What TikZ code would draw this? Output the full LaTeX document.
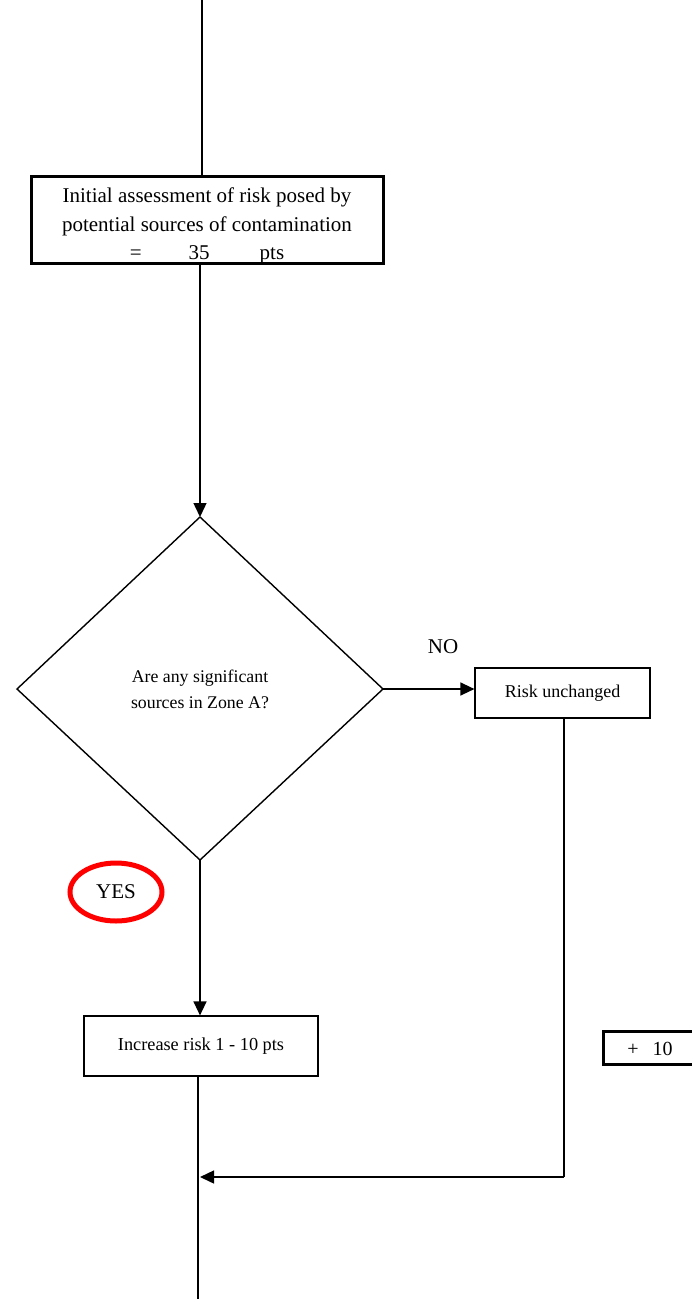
\documentclass[tikz,border=0pt]{standalone}
\usepackage{fontspec}
\setmainfont{Liberation Serif}
\usetikzlibrary{arrows.meta,shapes.geometric}
\begin{document}
\begin{tikzpicture}[x=1pt,y=-1pt,
  line/.style={line width=1.4pt,black},
  arr/.style={line, -{Triangle[length=14pt,width=13pt]}},
  thinbox/.style={draw,line width=1.2pt,align=center,inner sep=0pt},
  thickbox/.style={draw,line width=3pt,align=center,inner sep=0pt}]
\useasboundingbox (0,0) rectangle (692,1299);
% nodes
\node[thickbox,minimum width=352pt,minimum height=87pt] (init) at (207.5,220) {};
\node[align=center,inner sep=0pt,font=\fontsize{21}{28.5}\selectfont] (inittxt) at (207,226)
  {Initial assessment of risk posed by\\potential sources of contamination\\=\hspace{47pt}35\hspace{50pt}pts};
\draw[line width=1.4pt] (17,689) -- (200,517) -- (383,689) -- (200,860) -- cycle;
\coordinate (dtop) at (200,517);
\coordinate (dright) at (383,689);
\coordinate (dbot) at (200,860);
\node[align=center,inner sep=0pt,font=\fontsize{17.8}{26}\selectfont] (q) at (200,689) {Are any significant\\sources in Zone A?};
\node[thinbox,minimum width=175pt,minimum height=50pt,font=\fontsize{18}{22}\selectfont] (unch) at (562.5,693) {Risk unchanged};
\node[font=\fontsize{21}{24}\selectfont] (no) at (443,647) {NO};
\node[draw=red,line width=5pt,ellipse,minimum width=92pt,minimum height=58pt,inner sep=0pt,font=\fontsize{21}{24}\selectfont] (yes) at (116,892) {YES};
\node[thinbox,minimum width=234pt,minimum height=60pt,font=\fontsize{18.3}{22}\selectfont] (inc) at (201,1046) {Increase risk 1 - 10 pts};
\node[thickbox,minimum width=110pt,minimum height=33pt,anchor=north west] (plus) at (602,1030) {};
\node[font=\fontsize{20}{24}\selectfont] (plustxt) at (650,1049) {+\hspace{14pt}10};
% connectors
\coordinate (top) at (202,0);
\coordinate (bot) at (198,1299);
\coordinate (join) at (200,1177);
\coordinate (rdown) at (564,1177);
\draw[line] (top) -- (top |- init.north);
\draw[arr] (200,264) -- (dtop);
\draw[arr] (dright) -- (dright -| unch.west);
\draw[arr] (dbot) -- (dbot |- inc.north);
\draw[line] (unch.south -| rdown) -- (rdown);
\draw[arr] (rdown) -- (join);
\draw[line] (198,1076) -- (bot);
\end{tikzpicture}
\end{document}
